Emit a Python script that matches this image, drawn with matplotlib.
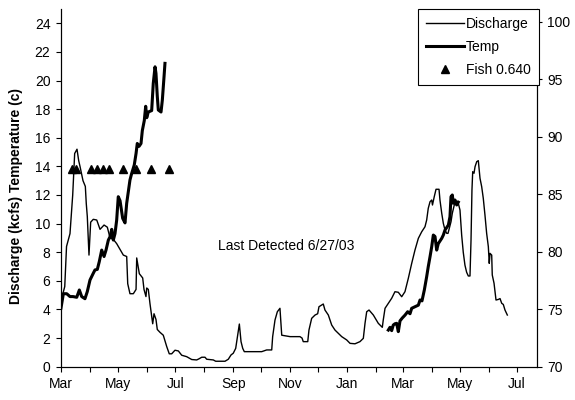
"""Discharge / temperature / fish detections, Mar 2002 - Jul 2003."""

from datetime import datetime, timedelta

import matplotlib
matplotlib.use("Agg")
import matplotlib.pyplot as plt
import matplotlib.dates as mdates

plt.rcParams.update({
    "font.family": ["Liberation Sans", "DejaVu Sans"], "font.size": 10,
    "axes.linewidth": 0.8, "xtick.major.size": 3.6, "ytick.major.size": 3.6,
    "xtick.minor.size": 3.6, "xtick.major.width": 0.8, "ytick.major.width": 0.8,
    "xtick.minor.width": 0.8,
})

START = datetime(2002, 3, 1)

# discharge (kcfs), days since 2002-03-01
q_day = [0, 1.6, 4, 5.9, 9.6, 12.5, 14.6, 17.1, 18.9, 20.3,
         23.5, 26, 27, 28.1, 29.9, 31.7, 34.5, 38.2, 41.7, 46,
         49.5, 52.4, 55.9, 59.5, 63.1, 66.6, 70.2, 71.3, 73.7, 77.3,
         80.2, 80.9, 83.7, 87.3, 88.7, 90.8, 91.6, 93.3, 95.1, 98,
         99.4, 101.5, 102.9, 105.8, 109.3, 113, 115.7, 118.3, 121.8, 125.4,
         129, 134.3, 139.7, 145, 147.5, 150.4, 153.9, 155.7, 162.8, 165.3,
         175.3, 178.8, 181.7, 184.1, 186.7, 188.8, 190.6, 192.4, 194.2, 195.9,
         214.5, 219.8, 225.2, 226.2, 228.7, 231.2, 234, 235.9, 244.8, 255.4,
         257.6, 258.9, 263.7, 265, 267.9, 271.5, 274.3, 275.7, 280.3, 282.1,
         285.7, 289.3, 292.8, 296.4, 300, 305.3, 308.9, 314.2, 319.5, 323.1,
         324.9, 326.7, 329.2, 333.8, 339.1, 343.4, 344.4, 346.3, 349.8, 353.4,
         356.9, 360.5, 364.1, 367.6, 371.2, 374.8, 378.3, 381.9, 385.5, 389,
         390.8, 392.5, 394.4, 396.2, 397, 398.9, 400.8, 404, 405, 406.9,
         408.6, 410.4, 412.2, 413.6, 415, 416.8, 418.2, 420.3, 422.1, 424.6,
         426.4, 428.2, 429.9, 431.7, 433.5, 435.3, 437.1, 438.2, 439.2, 440,
         441.4, 442.5, 444.3, 446, 447.8, 449.6, 451.3, 453.1, 454.9, 456.7,
         457.7, 458.5, 460.3, 460.9, 462.8, 464.9, 467.4, 469.2, 471, 472.7,
         474.5, 477]
q_kcfs = [4.2, 5.0, 5.6, 8.4, 9.3, 12.0, 14.9, 15.2, 14.4, 14.0,
          13.0, 12.6, 11.4, 10.5, 7.8, 10.1, 10.3, 10.25, 9.6, 9.9,
          9.75, 9.0, 8.9, 8.6, 8.2, 7.8, 7.7, 5.8, 5.1, 5.1,
          5.4, 7.6, 6.5, 6.2, 5.4, 4.9, 5.5, 5.4, 4.4, 3.0,
          3.7, 3.3, 2.6, 2.4, 2.2, 1.4, 0.9, 0.9, 1.15, 1.1,
          0.8, 0.7, 0.5, 0.47, 0.55, 0.66, 0.66, 0.52, 0.47, 0.38,
          0.38, 0.52, 0.82, 0.94, 1.28, 2.2, 2.98, 1.75, 1.28, 1.05,
          1.05, 1.17, 1.17, 2.1, 3.26, 3.84, 4.08, 2.2, 2.1, 2.1,
          2.0, 1.75, 1.75, 2.56, 3.38, 3.61, 3.7, 4.19, 4.38, 3.96,
          3.61, 2.91, 2.56, 2.33, 2.1, 1.87, 1.63, 1.6, 1.75, 1.98,
          3.03, 3.84, 3.96, 3.61, 3.03, 2.75, 3.26, 4.08, 4.43, 4.78,
          5.24, 5.2, 4.89, 5.24, 6.18, 7.22, 8.15, 8.97, 9.43, 9.78,
          10.25, 11.07, 11.53, 11.65, 11.3, 11.88, 12.4, 12.4, 11.65, 10.72,
          10.02, 9.55, 9.32, 9.32, 9.67, 10.13, 10.72, 11.3, 11.42, 11.42,
          10.95, 9.2, 8.0, 7.1, 6.6, 6.34, 6.34, 8.85, 12.35, 13.63,
          13.52, 13.98, 14.33, 14.4, 13.17, 12.58, 11.77, 10.6, 9.32, 8.39,
          7.22, 7.92, 7.8, 6.41, 5.83, 4.66, 4.7, 4.76, 4.43, 4.35,
          3.96, 3.61]

# temperature (c), two logger periods
t1_day = [0, 2.5, 6.1, 9.6, 12.8, 16.8, 19.6, 22.1, 25.6, 28.1,
          31, 34.5, 36.3, 38.8, 40.9, 43.5, 46, 48.1, 50.6, 52.4,
          54.2, 55.9, 57.7, 59.5, 61.2, 63.1, 65.9, 68.4, 70.2, 73.7,
          75.5, 78.3, 80.2, 81.5, 83.4, 85.5, 86.9, 89, 90.5, 91.6,
          93.3, 96.9, 98.6, 100.5, 101.5, 102.9, 104, 106.9, 108.3, 110.1,
          111.1]
t1_c = [4.1, 5.1, 5.1, 4.9, 4.9, 4.85, 5.36, 4.9, 4.75, 5.25,
        6.06, 6.53, 6.76, 6.8, 7.34, 8.15, 7.7, 8.15, 8.85, 9.08,
        9.6, 8.85, 9.3, 10.25, 11.88, 11.6, 10.37, 10.05, 11.42, 13.05,
        13.5, 14.1, 14.9, 15.6, 15.4, 15.6, 16.5, 17.2, 18.2, 17.4,
        17.8, 17.9, 19.8, 20.96, 20.5, 18.9, 17.94, 17.8, 18.64, 20.26,
        21.2]
t2_day = [349.8, 351.6, 353.4, 355.1, 356.9, 358.7, 360.5, 362.3, 364.7, 367.6,
          370.5, 373, 374.8, 378.3, 381.9, 383.7, 385.8, 388.3, 390.8, 392.5,
          394.4, 396.2, 397.9, 399.7, 401.5, 403.2, 406.9, 408.6, 410.4, 414,
          415.7, 416.8, 418.2, 419.3, 421.1, 422.9, 424.6]
t2_c = [2.56, 2.75, 2.52, 2.91, 3.0, 3.03, 2.45, 3.2, 3.4, 3.6,
        3.84, 3.7, 4.08, 4.19, 4.3, 4.66, 4.6, 5.36, 6.29, 6.99,
        7.69, 8.39, 9.2, 9.1, 8.15, 8.6, 8.97, 9.2, 9.55, 9.9,
        10.48, 11.88, 12.0, 11.42, 11.65, 11.3, 11.5]

# fish detections (right axis)
fish_day = [11.4, 16.4, 32.3, 38.2, 44.4, 50.8, 66.6, 79.9, 96.5, 115.4]
fish_pos = [87.2] * len(fish_day)


def to_dates(days):
    return [START + timedelta(days=d) for d in days]


fig = plt.figure(figsize=(5.75, 4.0), dpi=100)
ax = fig.add_axes([0.1061, 0.0833, 0.8273, 0.8942])
ax2 = ax.twinx()

l1, = ax.plot(to_dates(q_day), q_kcfs, color="black", lw=1.0, label="Discharge")
l2, = ax.plot(to_dates(t1_day), t1_c, color="black", lw=2.2, label="Temp")
ax.plot(to_dates(t2_day), t2_c, color="black", lw=2.2)
l3, = ax2.plot(to_dates(fish_day), fish_pos, "^", color="black", ms=6,
               linestyle="none", label="Fish 0.640")

ax.set_xlim(START, START + timedelta(days=508.4))
ax.set_ylim(0, 25)
ax.set_yticks(range(0, 25, 2))
ax2.set_ylim(70, 101.1)
ax2.set_yticks(range(70, 101, 5))

ax.xaxis.set_major_locator(mdates.MonthLocator(bymonth=[1, 3, 5, 7, 9, 11]))
ax.xaxis.set_minor_locator(mdates.MonthLocator(bymonth=[2, 4, 6, 8, 10, 12]))
ax.xaxis.set_major_formatter(mdates.DateFormatter("%b"))

for a in (ax, ax2):
    a.spines["top"].set_visible(False)
ax.tick_params(axis="both", which="both", direction="out", pad=4)
ax2.tick_params(axis="y", direction="out", pad=4)

ax.set_ylabel("Discharge (kcfs) Temperature (c)", fontweight="bold")
ax.yaxis.set_label_coords(-0.08, 0.478)

ax.text(START + timedelta(days=241), 8.4, "Last Detected 6/27/03",
        ha="center", va="center")

leg = ax2.legend([l1, l2, l3], ["Discharge", "Temp", "Fish 0.640"],
                 loc="upper right", bbox_to_anchor=(1.005, 1.0), borderaxespad=0,
                 fancybox=False, framealpha=1, edgecolor="black",
                 handlelength=2.7, handletextpad=0.15, borderpad=0.6,
                 labelspacing=0.62)
leg.get_frame().set_linewidth(0.8)

fig.savefig("out.png", dpi=100)
